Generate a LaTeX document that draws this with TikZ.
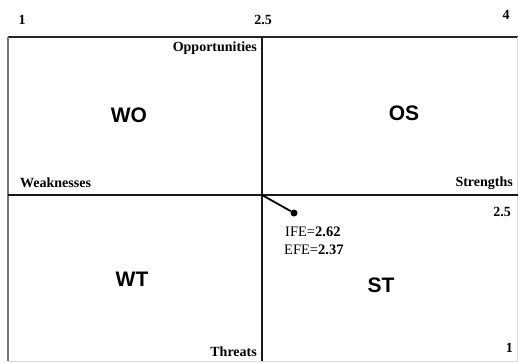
\documentclass[tikz,border=0pt]{standalone}
\usepackage{fontspec}
\setmainfont{Liberation Serif}
\newfontfamily\quadfont{Liberation Sans}
\begin{document}
\begin{tikzpicture}[x=1pt,y=-1pt,
  axislabel/.style={font=\bfseries\fontsize{14}{16}\selectfont, inner sep=0pt},
  quadlabel/.style={font=\quadfont\bfseries\fontsize{21}{24}\selectfont, inner sep=0pt},
  scalelabel/.style={font=\bfseries\fontsize{14}{16}\selectfont, inner sep=0pt},
  readout/.style={font=\fontsize{14.5}{16}\selectfont, anchor=west, inner sep=0pt},
  frameline/.style={line width=1.4pt, black!85},
]
\useasboundingbox (0,0) rectangle (518,363);
% frame of the matrix
\coordinate (tl) at (8,37);
\coordinate (tr) at (518,37);
\coordinate (bl) at (8,361);
\coordinate (br) at (518,361);
\coordinate (vt) at (262,37);
\coordinate (vb) at (262,361);
\coordinate (hl) at (8,195);
\coordinate (hr) at (518,195);
\draw[frameline] (tl) -- (tr);
\draw[line width=2pt, black!55] (tl) -- (bl);
\draw[line width=0.6pt, black!15] (bl) -- (br);
\draw[line width=0.6pt, black!15] (517,37) -- (517,361);
\draw[line width=1.2pt, black!90] (vt) -- (vb);
\draw[line width=1.2pt, black!90] (hl) -- (hr);

% scale values
\node[scalelabel] (s1) at (22,20) {1};
\node[scalelabel] (s25) at (263,20) {2.5};
\node[scalelabel] (s4) at (506,15) {4};
\node[scalelabel, anchor=east] (r25) at (511,212) {2.5};
\node[scalelabel, anchor=east] (r1) at (513,348) {1};

% axis names
\node[axislabel, anchor=east] (opp) at (257,48) {Opportunities};
\node[axislabel, anchor=west] (weak) at (20,183) {Weaknesses};
\node[axislabel, anchor=east] (str) at (513,183) {Strengths};
\node[axislabel, anchor=east] (thr) at (257,352) {Threats};

% quadrants
\node[quadlabel] (wo) at (129,115) {WO};
\node[quadlabel] (os) at (404,113) {OS};
\node[quadlabel] (wt) at (132,279) {WT};
\node[quadlabel] (st) at (381,285) {ST};

% position of the organisation
\coordinate (origin) at (262,195);
\node[circle, fill=black, inner sep=0pt, minimum size=7pt] (pos) at (294,213) {};
\draw[line width=1.8pt] (origin) -- (pos);
\node[readout] (ife) at (285,232) {IFE=\textbf{2.62}};
\node[readout] (efe) at (284,250) {EFE=\textbf{2.37}};
\end{tikzpicture}
\end{document}
